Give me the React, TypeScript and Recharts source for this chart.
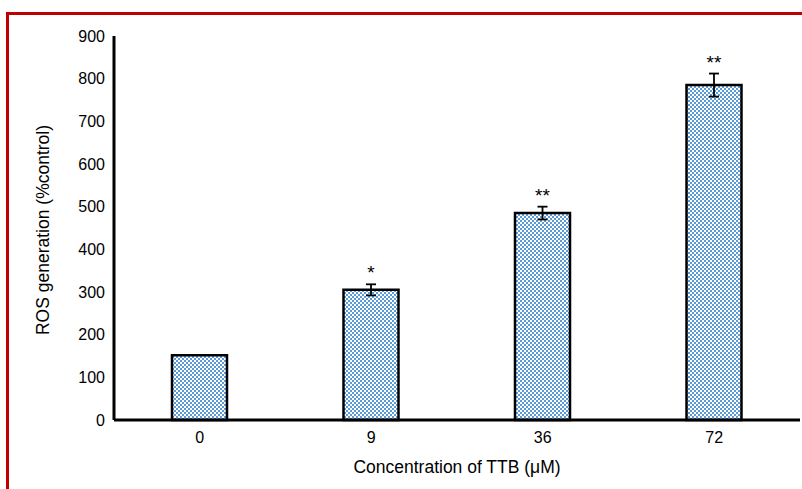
import React from 'react';
import { BarChart, Bar, XAxis, YAxis, ErrorBar, LabelList } from 'recharts';

const categories = ['0', '9', '36', '72'];
const rosValues = [152, 305, 485, 785];
const rosErrors = [0, 13, 15, 27];
const significance = ['', '*', '**', '**'];
const yTicks = [0, 100, 200, 300, 400, 500, 600, 700, 800, 900];

const data = categories.map((c, i) => ({
  conc: c,
  ros: rosValues[i],
  err: rosErrors[i],
  sig: significance[i],
}));

const FONT = "'Liberation Sans', Arial, sans-serif";

const SigLabel = (props: any) => {
  const { x, y, width, height, value, index } = props;
  if (!value) return null;
  const i = typeof index === 'number' ? index : 0;
  const errPx = rosValues[i] ? (height * rosErrors[i]) / rosValues[i] : 0;
  return (
    <text
      x={x + width / 2}
      y={y - errPx - 5}
      textAnchor="middle"
      fontSize={19}
      fontFamily={FONT}
      fill="#000"
    >
      {value}
    </text>
  );
};

export default function App() {
  return (
    <div
      style={{
        position: 'absolute',
        left: 0,
        top: 0,
        width: 802,
        height: 489,
        background: '#fff',
        overflow: 'hidden',
      }}
    >
      <div
        style={{
          position: 'absolute',
          left: 6,
          top: 12,
          width: 796,
          height: 477,
          borderTop: '3px solid #c00000',
          borderLeft: '3px solid #c00000',
          boxSizing: 'border-box',
        }}
      />
      <div style={{ position: 'absolute', left: 0, top: 0 }}>
        <BarChart
          width={802}
          height={489}
          data={data}
          margin={{ top: 36, right: 2, bottom: 0, left: 0 }}
          barSize={55}
        >
          <defs>
            <pattern id="checker" patternUnits="userSpaceOnUse" width={4} height={4}>
              <rect x={0} y={0} width={4} height={4} fill="#ffffff" />
              <rect x={0} y={0} width={2} height={2} fill="#5b9bd8" />
              <rect x={2} y={2} width={2} height={2} fill="#5b9bd8" />
            </pattern>
          </defs>
          <XAxis
            dataKey="conc"
            height={69}
            tickLine={false}
            axisLine={{ stroke: '#000', strokeWidth: 3 }}
            tick={{ fill: '#000', fontSize: 16, fontFamily: FONT }}
            tickMargin={6}
            label={{
              value: 'Concentration of TTB (μM)',
              position: 'insideBottom',
              offset: 16,
              fill: '#000',
              fontSize: 17.5,
              fontFamily: FONT,
            }}
          />
          <YAxis
            width={114}
            domain={[0, 900]}
            ticks={yTicks}
            interval={0}
            tickLine={false}
            axisLine={{ stroke: '#000', strokeWidth: 3 }}
            tick={{ fill: '#000', fontSize: 16, fontFamily: FONT }}
            tickMargin={3}
            label={{
              content: () => (
                <text
                  x={43}
                  y={230}
                  transform="rotate(-90 43 230)"
                  textAnchor="middle"
                  dominantBaseline="central"
                  fontSize={17.5}
                  fontFamily={FONT}
                  fill="#000"
                >
                  ROS generation (%control)
                </text>
              ),
            }}
          />
          <Bar
            dataKey="ros"
            fill="url(#checker)"
            stroke="#000"
            strokeWidth={2.5}
            isAnimationActive={false}
          >
            <ErrorBar
              dataKey="err"
              width={5}
              stroke="#000"
              strokeWidth={1.8}
              direction="y"
              isAnimationActive={false}
            />
            <LabelList dataKey="sig" content={SigLabel} />
          </Bar>
        </BarChart>
      </div>
    </div>
  );
}
